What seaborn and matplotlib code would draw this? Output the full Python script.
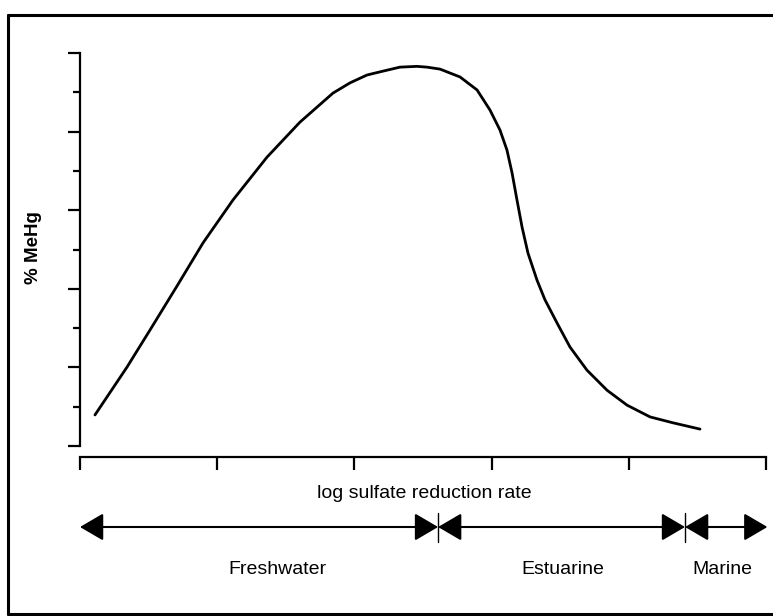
import numpy as np
import pandas as pd
import matplotlib
matplotlib.use('Agg')
import matplotlib.pyplot as plt
import seaborn as sns
from matplotlib.lines import Line2D
from matplotlib.ticker import MultipleLocator, NullFormatter
import matplotlib.transforms as mtransforms

# curve (x: log sulfate reduction rate, y: % MeHg, arbitrary units)
log_sr = [0.109, 0.343, 0.510, 0.707, 0.897, 1.115, 1.363, 1.603, 1.844, 1.968,
          2.092, 2.210, 2.332, 2.456, 2.529, 2.624, 2.770, 2.894, 2.988, 3.061,
          3.112, 3.149, 3.185, 3.222, 3.265, 3.331, 3.389, 3.477, 3.571, 3.695,
          3.841, 3.987, 4.155, 4.322, 4.519]
pct_mehg = [7.9, 20.1, 29.5, 40.7, 51.7, 62.6, 73.5, 82.4, 89.8, 92.4,
            94.4, 95.4, 96.4, 96.6, 96.4, 95.9, 93.9, 90.6, 85.5, 80.4,
            75.3, 69.5, 62.6, 55.7, 49.1, 42.2, 37.2, 31.3, 25.2, 19.3,
            14.2, 10.4, 7.4, 5.9, 4.3]

# environment zones along the x axis
zones = ['Freshwater', 'Estuarine', 'Marine']
zone_edges = [0.0, 2.61, 4.41, 5.01]
zone_label_x = [1.44, 3.52, 4.68]

df = pd.DataFrame({'log_sr': log_sr, 'pct': pct_mehg})

sns.set_style('white')
plt.rcParams['font.family'] = ['Liberation Sans', 'DejaVu Sans']
plt.rcParams['text.color'] = 'black'

fig = plt.figure(figsize=(7.73, 6.16), dpi=100)
ax = fig.add_axes([80 / 773, 1 - 446 / 616, 686 / 773, 393 / 616])

sns.lineplot(data=df, x='log_sr', y='pct', ax=ax, color='black', linewidth=2.0)

ax.set_xlim(0, 5)
ax.set_ylim(0, 100)
ax.set_xlabel('')
ax.set_ylabel('')

for s in ['top', 'right']:
    ax.spines[s].set_visible(False)
ax.spines['left'].set_linewidth(1.6)
ax.spines['bottom'].set_linewidth(1.6)
ax.spines['bottom'].set_position(('outward', 8))
ax.spines['left'].set_color('black')
ax.spines['bottom'].set_color('black')

ax.xaxis.set_major_locator(MultipleLocator(1))
ax.yaxis.set_major_locator(MultipleLocator(20))
ax.yaxis.set_minor_locator(MultipleLocator(10))
ax.xaxis.set_major_formatter(NullFormatter())
ax.yaxis.set_major_formatter(NullFormatter())
ax.tick_params(axis='x', which='major', direction='out', length=9, width=1.6,
               color='black', bottom=True)
ax.tick_params(axis='y', which='major', direction='out', length=9, width=1.6,
               color='black', left=True)
ax.tick_params(axis='y', which='minor', direction='out', length=5, width=1.6,
               color='black', left=True)

# axis titles
fig.text(424 / 773, 1 - 494 / 616, 'log sulfate reduction rate', ha='center',
         va='center', fontsize=14, color='black')
fig.text(34 / 773, 1 - 248 / 616, '% MeHg', ha='center', va='center',
         rotation=90, fontsize=13.5, fontweight='bold', color='black')

# zone arrows below the axis
trans = mtransforms.blended_transform_factory(ax.transData, fig.transFigure)
arrow_y = 1 - 527 / 616
for i in range(len(zones)):
    ax.annotate('', xy=(zone_edges[i + 1], arrow_y), xytext=(zone_edges[i], arrow_y),
                xycoords=trans, textcoords=trans, annotation_clip=False,
                arrowprops=dict(arrowstyle='<|-|>,head_length=1.45,head_width=0.85',
                                mutation_scale=10, lw=1.5, color='black',
                                shrinkA=0, shrinkB=0))
    ax.text(zone_label_x[i], 1 - 570 / 616, zones[i], transform=trans,
            ha='center', va='center', fontsize=14, color='black')
for e in zone_edges[1:3]:
    ax.add_line(Line2D([e, e], [1 - 513 / 616, 1 - 542 / 616], transform=trans,
                       color='black', lw=1, clip_on=False))

# outer frame (right side runs off the picture)
frame_kw = dict(color='black', lw=2.2, transform=fig.transFigure)
fig.add_artist(Line2D([8 / 773, 8 / 773], [1 - 15 / 616, 1 - 614 / 616], **frame_kw))
fig.add_artist(Line2D([8 / 773, 1.0], [1 - 15 / 616, 1 - 15 / 616], **frame_kw))
fig.add_artist(Line2D([8 / 773, 1.0], [1 - 614 / 616, 1 - 614 / 616], **frame_kw))

fig.savefig('out.png', dpi=100)
